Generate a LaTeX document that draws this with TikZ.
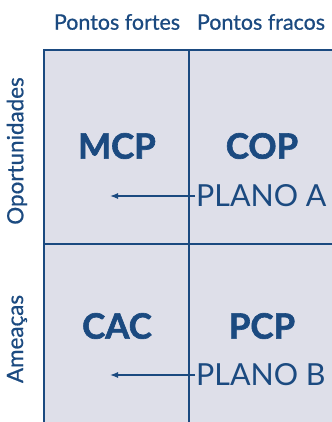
\documentclass[tikz,border=0pt]{standalone}
\usepackage{fontspec}
\setmainfont{Lato}
\newfontfamily\latomed{Lato}[FakeBold=0.7]
\newfontfamily\latoheavy{Lato}[BoldFeatures={FakeBold=1.8}]
\definecolor{swotblue}{HTML}{1B4A80}
\definecolor{swotfill}{HTML}{DEDFE9}
\usetikzlibrary{arrows.meta}

\tikzset{
  grid/.style={swotblue, line width=1.4bp},
  head/.style={text=swotblue, font=\fontsize{21.5}{24}\latomed},
  side/.style={text=swotblue, font=\fontsize{22.5}{26}\latomed, rotate=90},
  quad/.style={text=swotblue, font=\fontsize{35}{40}\latoheavy\bfseries},
  plan/.style={text=swotblue, font=\fontsize{30.5}{34}\selectfont, inner sep=1bp, anchor=west},
  pointer/.style={swotblue, line width=1.3bp, -{Latex[length=8bp,width=6bp]}}
}

\begin{document}
\begin{tikzpicture}[x=1bp, y=-1bp]
    \useasboundingbox (0,0) rectangle (332,422);

    % quadrants
    \fill[swotfill] (44,50) rectangle (332,422);
    \draw[grid] (44,422) -- (44,50) -- (332,50);
    \draw[grid] (189,50) -- (189,422);
    \draw[grid] (44,244) -- (332,244);

    % headers
    \node[head] (fortes) at (117,22) {Pontos fortes};
    \node[head] (fracos) at (261,22) {Pontos fracos};
    \node[side] (oport) at (17,151) {Oportunidades};
    \node[side] (ameacas) at (17,339) {Ameaças};

    % quadrant names
    \node[quad] (mcp) at (117,146) {MCP};
    \node[quad] (cop) at (262,146) {COP};
    \node[quad] (cac) at (117,326) {CAC};
    \node[quad] (pcp) at (262,326) {PCP};

    % plans
    \node[plan] (planoA) at (195,196) {PLANO A};
    \node[plan] (planoB) at (195,375) {PLANO B};
    \coordinate (tipA) at (110,196);
    \coordinate (tipB) at (110,375);
    \draw[pointer] (planoA.west) -- (tipA);
    \draw[pointer] (planoB.west) -- (tipB);
\end{tikzpicture}
\end{document}
